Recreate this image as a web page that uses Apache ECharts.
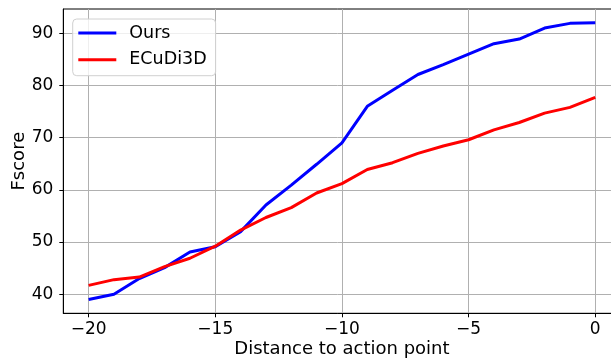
<!DOCTYPE html>
<html>
<head>
<meta charset="utf-8">
<script src="https://cdn.jsdelivr.net/npm/echarts@6/dist/echarts.min.js"></script>
<style>html,body{margin:0;padding:0;background:#fff}#c{width:611px;height:360px}</style>
</head>
<body>
<div id="c"></div>
<script>
var distances = [-20,-19,-18,-17,-16,-15,-14,-13,-12,-11,-10,-9,-8,-7,-6,-5,-4,-3,-2,-1,0];
var ours =     [39.0,40.0,43.0,45.1,48.1,49.1,52.0,57.1,60.9,64.9,69.0,76.0,79.1,82.1,84.0,86.0,88.0,88.9,91.0,91.9,92.0];
var ecudi3d =  [41.7,42.8,43.3,45.3,46.9,49.2,52.3,54.7,56.6,59.4,61.2,63.9,65.2,67.0,68.4,69.6,71.5,72.9,74.7,75.8,77.7];
var xTicks = [-20,-15,-10,-5,0];
var yTicks = [40,50,60,70,80,90];
var seriesNames = ['Ours','ECuDi3D'];

var FONT = 'DejaVu Sans';
function fmt(v){ return v < 0 ? '\u2212' + Math.abs(v) : String(v); }
function pairs(ys){ return distances.map(function(x,i){ return [x, ys[i]]; }); }

var chart = echarts.init(document.getElementById('c'), null, {renderer:'canvas'});
chart.setOption({
  animation:false,
  backgroundColor:'#fff',
  grid:{left:63.3, top:9, width:557.3, height:304.3, containLabel:false, outerBoundsMode:'none',
        show:true, borderColor:'#000', borderWidth:1, backgroundColor:'transparent'},
  xAxis:{
    type:'value', min:-21, max:1,
    name:'Distance to action point', nameLocation:'middle', nameGap:27, nameMoveOverlap:false,
    nameTextStyle:{fontFamily:FONT, fontSize:18, color:'#000', verticalAlign:'top'},
    axisLine:{show:true, onZero:false, lineStyle:{color:'#000', width:1}},
    axisTick:{show:true, length:4, lineStyle:{color:'#000'}, customValues:xTicks},
    axisLabel:{fontFamily:FONT, fontSize:17, color:'#000', margin:8, customValues:xTicks, formatter:fmt},
    splitLine:{show:true, lineStyle:{color:'#b0b0b0', width:1}}
  },
  yAxis:{
    type:'value', min:36.35, max:94.65,
    name:'Fscore', nameLocation:'middle', nameGap:34.5, nameRotate:90, nameMoveOverlap:false,
    nameTextStyle:{fontFamily:FONT, fontSize:18, color:'#000'},
    axisLine:{show:true, onZero:false, lineStyle:{color:'#000', width:1}},
    axisTick:{show:true, length:4, lineStyle:{color:'#000'}, customValues:yTicks},
    axisLabel:{fontFamily:FONT, fontSize:17, color:'#000', margin:10, customValues:yTicks, formatter:fmt},
    splitLine:{show:true, lineStyle:{color:'#b0b0b0', width:1}}
  },
  legend:{
    orient:'vertical', left:72.7, top:19,
    data:seriesNames,
    icon:'rect', itemWidth:38, itemHeight:3, itemGap:6.7,
    padding:[4,9,6,5.6],
    backgroundColor:'rgba(255,255,255,0.8)', borderColor:'#d0d0d0', borderWidth:1, borderRadius:4,
    textStyle:{fontFamily:FONT, fontSize:17.5, color:'#000', lineHeight:20, padding:[0,0,0,8]}
  },
  series:[
    {name:seriesNames[0], type:'line', data:pairs(ours), showSymbol:false, symbol:'none',
     lineStyle:{color:'#0000ff', width:3}, itemStyle:{color:'#0000ff'}, z:3},
    {name:seriesNames[1], type:'line', data:pairs(ecudi3d), showSymbol:false, symbol:'none',
     lineStyle:{color:'#ff0000', width:3}, itemStyle:{color:'#ff0000'}, z:4}
  ]
});
</script>
</body>
</html>
